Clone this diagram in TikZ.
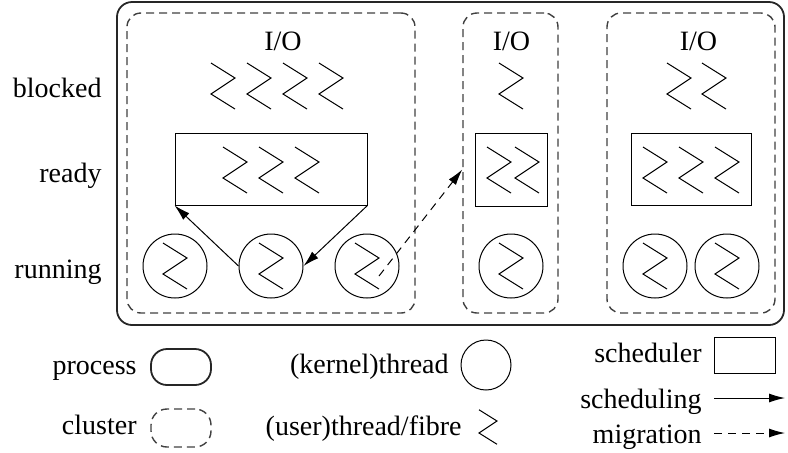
\documentclass[tikz,border=0pt]{standalone}
\usepackage{fontspec}
\setmainfont{Liberation Serif}
\usepackage{tikz}
\usetikzlibrary{positioning, arrows.meta}

% one user level thread, drawn as a zigzag
\tikzset{fibre/.pic={\draw[line width=0.5pt] (-12,-23) -- (12,-8) -- (-12,8) -- (12,23);}}

\begin{document}
\begin{tikzpicture}[x=0.5pt, y=-0.5pt, font=\fontsize{14}{16}\selectfont]
\tikzstyle{process}=[draw=black!85, line width=0.9pt, rounded corners=7.5pt, inner sep=0pt]
\tikzstyle{cluster}=[draw=black!75, line width=0.7pt, dash pattern=on 4pt off 2.5pt, rounded corners=7pt, inner sep=0pt]
\tikzstyle{sched}=[draw, line width=0.45pt, inner sep=0pt]
\tikzstyle{thread}=[draw, circle, line width=0.5pt, minimum size=32pt, inner sep=0pt]
\tikzstyle{rowtext}=[anchor=base east, inner sep=0pt]
\tikzstyle{iotext}=[anchor=base, inner sep=0pt]
\tikzstyle{schedule}=[-{Latex[length=8pt, width=4.5pt]}, line width=0.5pt]
\tikzstyle{migrate}=[schedule, dash pattern=on 4pt off 3pt]

\useasboundingbox (0,0) rectangle (788,452);

% process and clusters
\node (proc) [process, minimum width=333.5pt, minimum height=161.5pt] at (450.5,163.5) {};
\node (cl1) [cluster, minimum width=144pt, minimum height=150pt] at (271,163) {};
\node (cl2) [cluster, minimum width=47.5pt, minimum height=150pt] at (510.5,163) {};
\node (cl3) [cluster, minimum width=84pt, minimum height=150pt] at (691,163) {};

% row names
\node (blocked) [rowtext] at (102,97) {blocked};
\node (ready) [rowtext] at (102,182) {ready};
\node (running) [rowtext] at (102,278) {running};

% blocked on I/O
\node (io1) [iotext] at (283,50) {I/O};
\node (io2) [iotext] at (511.5,50) {I/O};
\node (io3) [iotext] at (698.5,50) {I/O};
\foreach \x in {223,259,295,331} \pic at (\x,86) {fibre};
\pic at (511,86) {fibre};
\foreach \x in {679,714} \pic at (\x,86) {fibre};

% ready queues
\node (rq1) [sched, minimum width=96pt, minimum height=36pt] at (271,169) {};
\node (rq2) [sched, minimum width=36pt, minimum height=36.5pt] at (511,169.5) {};
\node (rq3) [sched, minimum width=60pt, minimum height=36pt] at (691,169) {};
\foreach \x in {235,271,307} \pic at (\x,170) {fibre};
\foreach \x in {499,527} \pic at (\x,170) {fibre};
\foreach \x in {655,691,727} \pic at (\x,170) {fibre};

% kernel threads
\node (kt1) [thread] at (175,266) {};
\node (kt2) [thread] at (271,266) {};
\node (kt3) [thread] at (367,266) {};
\node (kt4) [thread] at (511,266) {};
\node (kt5) [thread] at (655,266) {};
\node (kt6) [thread] at (727,266) {};
\foreach \k in {kt1,kt2,kt3,kt4,kt5,kt6} \pic at (\k) {fibre};

% scheduling and migration
\draw[schedule] (kt2.west) -- (rq1.south west);
\draw[schedule] (rq1.south east) -- (kt2.east);
\coordinate (mig) at ([shift={(12,10)}]kt3.center);
\draw[migrate] (mig) -- (rq2.west -| cl2.west);

% legend
\node (lgproc) [process, minimum width=30pt, minimum height=18pt, rounded corners=8pt] at (181,367) {};
\node (lgproctext) [rowtext] at (137,374) {process};
\node (lgcl) [cluster, minimum width=30pt, minimum height=19pt, rounded corners=8pt] at (181,428) {};
\node (lgcltext) [rowtext] at (137,434) {cluster};
\node (lgkt) [thread, minimum size=25pt] at (486,365) {};
\node (lgkttext) [rowtext] at (449,373) {(kernel)thread};
\pic[scale=0.75] at (488,427) {fibre};
\node (lgfibtext) [rowtext] at (462,435) {(user)thread/fibre};
\node (lgrq) [sched, minimum width=30.5pt, minimum height=18pt] at (744.5,355) {};
\node (lgrqtext) [rowtext] at (702,362) {scheduler};
\node (lgschedtext) [rowtext] at (702,408) {scheduling};
\node (lgmigtext) [rowtext] at (702,443) {migration};
\coordinate (sch0) at (714,398);
\coordinate (sch1) at (785,398);
\coordinate (mig0) at (714,433);
\coordinate (mig1) at (785,433);
\draw[schedule] (sch0) -- (sch1);
\draw[migrate] (mig0) -- (mig1);

\end{tikzpicture}
\end{document}
